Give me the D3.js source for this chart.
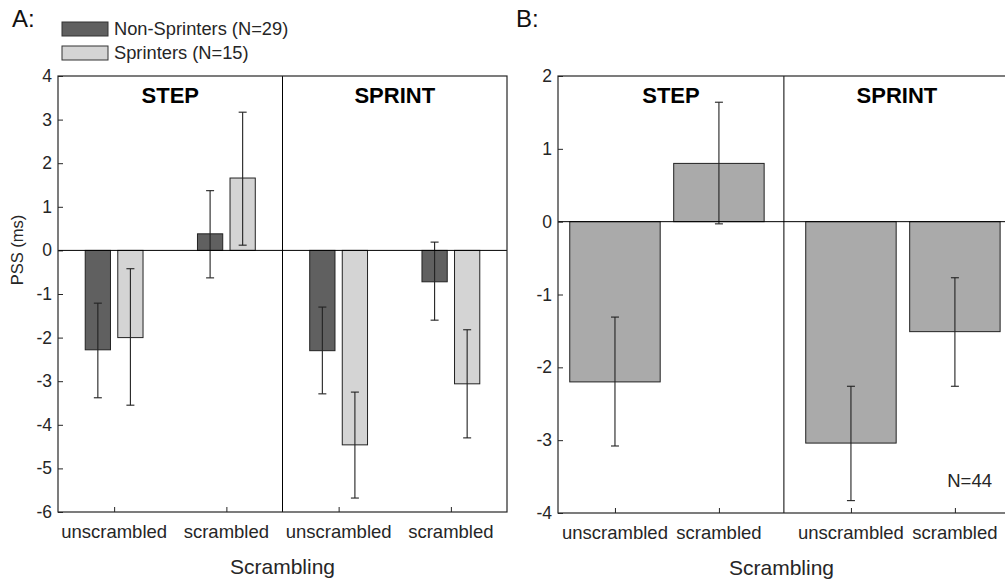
<!DOCTYPE html>
<html>
<head>
<meta charset="utf-8">
<script src="https://cdn.jsdelivr.net/npm/d3@7"></script>
<style>
  body { margin: 0; background: #fff; }
  svg { font-family: "Liberation Sans", Arial, sans-serif; }
</style>
</head>
<body>
<svg id="svg1" width="1005" height="580"></svg>
<script>
// ---- data ----
var conditions = ['unscrambled', 'scrambled', 'unscrambled', 'scrambled'];
var blocks = ['STEP', 'SPRINT'];
var groups = ['Non-Sprinters (N=29)', 'Sprinters (N=15)'];

// panel A, mean and error bar limits
var nonSprMean = [-2.28, 0.38, -2.3, -0.72];
var nonSprLow  = [-3.38, -0.63, -3.29, -1.6];
var nonSprHigh = [-1.21, 1.37, -1.3, 0.19];
var sprMean = [-2.0, 1.66, -4.46, -3.06];
var sprLow  = [-3.55, 0.12, -5.68, -4.3];
var sprHigh = [-0.42, 3.17, -3.25, -1.82];

// panel B (all, N=44)
var allMean = [-2.2, 0.8, -3.04, -1.51];
var allLow  = [-3.08, -0.03, -3.83, -2.26];
var allHigh = [-1.31, 1.64, -2.26, -0.77];

var yTicksA = [4, 3, 2, 1, 0, -1, -2, -3, -4, -5, -6];
var yTicksB = [2, 1, 0, -1, -2, -3, -4];

var svg = d3.select('svg');
var axisCol = '#262626';

// ---- panel A ----
var xA = d3.scaleLinear().domain([0.5, 4.5]).range([58, 507]);
var yA = d3.scaleLinear().domain([-6, 4]).range([512, 76]);

// ---- panel B ----
var posB = [1, 2, 3.27, 4.27];   // category positions on B's x axis
var xB = d3.scaleLinear().domain([0.452, 4.8]).range([558, 1010]);
var yB = d3.scaleLinear().domain([-4, 2]).range([513, 76]);

function drawErr(g, x, lo, hi, y) {
    var cap = 4;
    g.append('line').attr('x1', x).attr('x2', x).attr('y1', y(lo)).attr('y2', y(hi))
        .attr('stroke', '#222').attr('stroke-width', 1.1);
    [lo, hi].forEach(function(v){
        g.append('line').attr('x1', x - cap).attr('x2', x + cap).attr('y1', y(v)).attr('y2', y(v))
            .attr('stroke', '#222').attr('stroke-width', 1.1);
    });
}

function drawFrame(x, y, ticks, xPos) {
    var g = svg.append('g');
    var x0 = x.range()[0], x1 = x.range()[1];
    var y0 = y.range()[0];

    // axes via d3.axis (ticks drawn inward)
    g.append('g').attr('transform', 'translate(' + x0 + ',0)')
        .call(d3.axisRight(y).tickValues(ticks).tickSize(5).tickFormat(''))
        .call(function(s){ s.select('.domain').remove(); s.selectAll('line').attr('stroke', axisCol); });
    g.append('g').attr('transform', 'translate(0,' + y0 + ')')
        .call(d3.axisTop(x).tickValues(xPos).tickSize(5).tickFormat(''))
        .call(function(s){ s.select('.domain').remove(); s.selectAll('line').attr('stroke', axisCol); });

    // y tick labels
    g.selectAll('.ylab').data(ticks).enter().append('text')
        .attr('x', x0 - 6).attr('y', function(d){ return y(d) + 6; })
        .attr('text-anchor', 'end').attr('font-size', 17.5).attr('fill', axisCol)
        .text(function(d){ return d; });
    // x tick labels
    g.selectAll('.xlab').data(xPos).enter().append('text')
        .attr('x', function(d){ return x(d); }).attr('y', y0 + 26)
        .attr('text-anchor', 'middle').attr('font-size', 18.5).attr('fill', axisCol)
        .text(function(d, i){ return conditions[i]; });
    // x label
    g.append('text').attr('x', (x0 + Math.min(x1, 1005)) / 2).attr('y', y0 + 62)
        .attr('text-anchor', 'middle').attr('font-size', 21).attr('fill', axisCol)
        .text('Scrambling');
    return g;
}

function drawBox(g, x, y, divider) {
    var x0 = x.range()[0], x1 = x.range()[1];
    var y0 = y.range()[0], y1 = y.range()[1];
    g.append('line').attr('x1', x0).attr('x2', x1).attr('y1', y(0)).attr('y2', y(0))
        .attr('stroke', '#000').attr('stroke-width', 1);
    g.append('line').attr('x1', x(divider)).attr('x2', x(divider)).attr('y1', y0).attr('y2', y1)
        .attr('stroke', '#000').attr('stroke-width', 1);
    g.append('rect').attr('x', x0).attr('y', y1).attr('width', x1 - x0).attr('height', y0 - y1)
        .attr('fill', 'none').attr('stroke', axisCol).attr('stroke-width', 1.2);
    // block titles
    g.selectAll('.blk').data(blocks).enter().append('text')
        .attr('x', function(d, i){ return i === 0 ? (x0 + x(divider)) / 2 : (x(divider) + x1) / 2; })
        .attr('y', y1 + 27)
        .attr('text-anchor', 'middle').attr('font-size', 22).attr('font-weight', 'bold').attr('fill', '#000')
        .text(function(d){ return d; });
}

// panel A bars
var gA = drawFrame(xA, yA, yTicksA, [1, 2, 3, 4]);
var barWA = 0.225, offA = 0.145;
var seriesA = [
    {mean: nonSprMean, lo: nonSprLow, hi: nonSprHigh, off: -offA, fill: '#606060'},
    {mean: sprMean, lo: sprLow, hi: sprHigh, off: offA, fill: '#d4d4d4'}
];
seriesA.forEach(function(s){
    gA.selectAll(null).data(s.mean).enter().append('rect')
        .attr('x', function(d, i){ return xA(i + 1 + s.off - barWA / 2); })
        .attr('width', xA(barWA) - xA(0))
        .attr('y', function(d){ return yA(Math.max(0, d)); })
        .attr('height', function(d){ return Math.abs(yA(d) - yA(0)); })
        .attr('fill', s.fill).attr('stroke', '#222').attr('stroke-width', 1);
});
seriesA.forEach(function(s){
    s.mean.forEach(function(d, i){ drawErr(gA, xA(i + 1 + s.off), s.lo[i], s.hi[i], yA); });
});
drawBox(gA, xA, yA, 2.5);

// panel B bars
var gB = drawFrame(xB, yB, yTicksB, posB);
var barWB = 0.87;
gB.selectAll(null).data(allMean).enter().append('rect')
    .attr('x', function(d, i){ return xB(posB[i] - barWB / 2); })
    .attr('width', xB(barWB) - xB(0))
    .attr('y', function(d){ return yB(Math.max(0, d)); })
    .attr('height', function(d){ return Math.abs(yB(d) - yB(0)); })
    .attr('fill', '#aaaaaa').attr('stroke', '#222').attr('stroke-width', 1);
allMean.forEach(function(d, i){ drawErr(gB, xB(posB[i]), allLow[i], allHigh[i], yB); });
drawBox(gB, xB, yB, 2.625);
gB.append('text').attr('x', 992).attr('y', 487).attr('text-anchor', 'end')
    .attr('font-size', 18.5).attr('fill', axisCol).text('N=44');

// y label
svg.append('text').attr('transform', 'translate(23,250) rotate(-90)')
    .attr('text-anchor', 'middle').attr('font-size', 16.5).attr('fill', axisCol).text('PSS (ms)');

// panel letters
svg.append('text').attr('x', 12).attr('y', 27).attr('font-size', 24).attr('fill', '#111').text('A:');
svg.append('text').attr('x', 516).attr('y', 27).attr('font-size', 24).attr('fill', '#111').text('B:');

// legend
var legFill = ['#606060', '#d4d4d4'];
var leg = svg.append('g').attr('transform', 'translate(62,22)');
groups.forEach(function(name, i){
    leg.append('rect').attr('x', 0).attr('y', i * 24).attr('width', 46).attr('height', 14)
        .attr('fill', legFill[i]).attr('stroke', '#333').attr('stroke-width', 1);
    leg.append('text').attr('x', 52).attr('y', i * 24 + 13).attr('font-size', 18.3).attr('fill', axisCol)
        .text(name);
});
</script>
</body>
</html>
